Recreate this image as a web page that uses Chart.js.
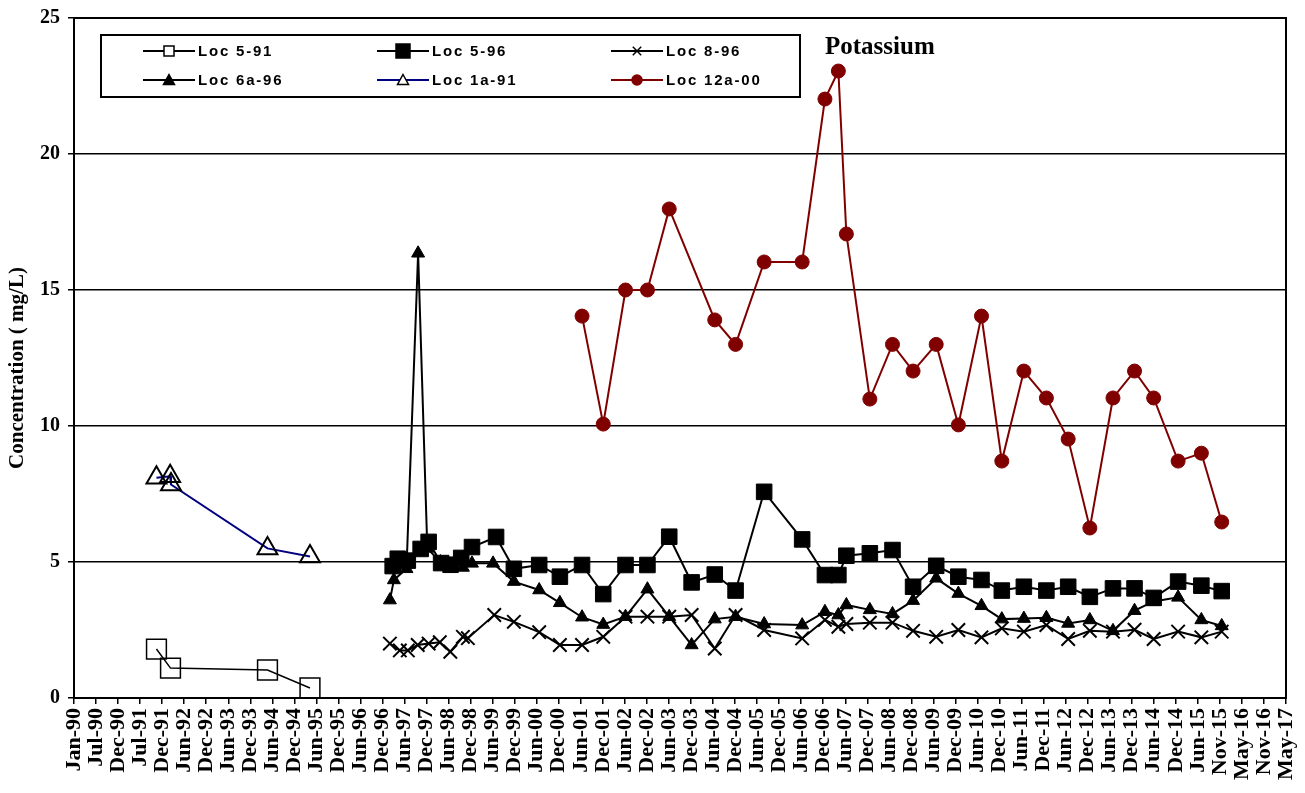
<!DOCTYPE html>
<html>
<head>
<meta charset="utf-8">
<script src="https://cdn.jsdelivr.net/npm/chart.js@4.4.1/dist/chart.umd.min.js"></script>
<style>
html,body{margin:0;padding:0;background:#fff;}
#wrap{width:1305px;height:793px;}
</style>
</head>
<body>
<div id="wrap"><canvas id="c" width="1305" height="793"></canvas></div>
<script>
// ---------- DATA ----------
const xTickLabels = ['Jan-90','Jul-90','Dec-90','Jul-91','Dec-91','Jun-92','Dec-92','Jun-93','Dec-93','Jun-94','Dec-94','Jun-95','Dec-95','Jun-96','Dec-96','Jun-97','Dec-97','Jun-98','Dec-98','Jun-99','Dec-99','Jun-00','Dec-00','Jun-01','Dec-01','Jun-02','Dec-02','Jun-03','Dec-03','Jun-04','Dec-04','Jun-05','Dec-05','Jun-06','Dec-06','Jun-07','Dec-07','Jun-08','Dec-08','Jun-09','Dec-09','Jun-10','Dec-10','Jun-11','Dec-11','Jun-12','Dec-12','Jun-13','Dec-13','Jun-14','Dec-14','Jun-15','Nov-15','May-16','Nov-16','May-17'];
const axisStartDate = '1990-01-01';
const tickStepDays = 182;
const yTicks = [0, 5, 10, 15, 20, 25];

const loc591Dates  = ['1991-11-13','1992-03-08','1994-05-18','1995-05-04'];
const loc591Values = [1.8, 1.1, 1.03, 0.37];

const loc1a91Dates  = ['1991-11-13','1992-03-05','1992-03-12','1994-05-18','1995-05-04'];
const loc1a91Values = [8.1, 8.15, 7.85, 5.5, 5.2];

const loc596Dates = ['1997-03-17','1997-04-28','1997-07-20','1997-11-03','1998-01-08','1998-04-21','1998-07-08','1998-10-04','1999-01-01','1999-07-19','1999-12-13',
  '2000-07-09','2000-12-27','2001-06-28','2001-12-20','2002-06-22','2002-12-20','2003-06-18','2003-12-20','2004-06-28','2004-12-17',
  '2005-08-10','2006-06-20','2006-12-25','2007-04-15','2007-06-20','2007-12-31','2008-07-05','2008-12-22','2009-07-01','2009-12-31',
  '2010-07-10','2010-12-25','2011-06-25','2011-12-28','2012-06-25','2012-12-21','2013-06-30','2013-12-25','2014-06-01','2014-12-20',
  '2015-06-30','2015-12-15'];
const loc596Values = [4.85,5.12,5.05,5.48,5.74,4.96,4.9,5.15,5.55,5.92,4.75,
  4.89,4.46,4.89,3.82,4.89,4.89,5.93,4.25,4.54,3.95,
  7.58,5.83,4.52,4.52,5.23,5.32,5.44,4.09,4.86,4.46,
  4.34,3.95,4.09,3.95,4.09,3.72,4.03,4.03,3.68,4.28,
  4.13,3.93];

const loc896Dates = ['1997-02-22','1997-05-15','1997-07-20','1997-10-10','1998-01-08','1998-04-10','1998-07-06','1998-10-18','1998-11-28','1999-07-04','1999-12-13',
  '2000-07-09','2000-12-27','2001-06-28','2001-12-20','2002-06-22','2002-12-20','2003-06-18','2003-12-20','2004-06-28','2004-12-17',
  '2005-08-10','2006-06-20','2006-12-25','2007-04-15','2007-06-20','2007-12-31','2008-07-05','2008-12-22','2009-07-01','2009-12-31',
  '2010-07-10','2010-12-25','2011-06-25','2011-12-28','2012-06-25','2012-12-21','2013-06-30','2013-12-25','2014-06-01','2014-12-20',
  '2015-06-30','2015-12-15'];
const loc896Values = [2.0,1.75,1.75,1.95,2.0,2.05,1.7,2.25,2.2,3.05,2.8,
  2.42,1.95,1.95,2.25,2.99,2.99,2.99,3.05,1.82,3.05,
  2.5,2.19,2.87,2.62,2.72,2.77,2.77,2.47,2.25,2.5,
  2.23,2.56,2.44,2.68,2.17,2.47,2.44,2.51,2.17,2.44,
  2.23,2.44];

const loc6a96Dates = ['1997-02-22','1997-03-27','1997-07-09','1997-10-13','1997-12-28','1998-04-15','1998-07-06','1998-10-18','1999-01-01','1999-06-24','1999-12-13',
  '2000-07-09','2000-12-27','2001-06-28','2001-12-20','2002-06-22','2002-12-20','2003-06-18','2003-12-20','2004-06-28','2004-12-17',
  '2005-08-10','2006-06-20','2006-12-25','2007-04-15','2007-06-20','2007-12-31','2008-07-05','2008-12-22','2009-07-01','2009-12-31',
  '2010-07-10','2010-12-25','2011-06-25','2011-12-28','2012-06-25','2012-12-21','2013-06-30','2013-12-25','2014-06-01','2014-12-20',
  '2015-06-30','2015-12-15'];
const loc6a96Values = [3.6,4.34,4.75,16.35,5.5,5.0,4.75,4.8,4.95,4.95,4.28,
  3.97,3.5,2.97,2.7,2.99,4.0,2.99,1.95,2.9,2.99,
  2.72,2.68,3.17,3.05,3.42,3.24,3.09,3.58,4.4,3.84,
  3.39,2.9,2.92,2.95,2.74,2.87,2.47,3.21,3.55,3.7,
  2.87,2.65];

const loc12a00Dates = ['2001-06-28','2001-12-20','2002-06-22','2002-12-20','2003-06-18','2004-06-28','2004-12-17',
  '2005-08-10','2006-06-20','2006-12-25','2007-04-15','2007-06-20','2007-12-31','2008-07-05','2008-12-22','2009-07-01','2009-12-31',
  '2010-07-10','2010-12-25','2011-06-25','2011-12-28','2012-06-25','2012-12-21','2013-06-30','2013-12-25','2014-06-01','2014-12-20',
  '2015-06-30','2015-12-15'];
const loc12a00Values = [14.04,10.07,15.0,15.0,17.98,13.9,13.0,
  16.03,16.03,22.02,23.05,17.06,10.99,13.0,12.02,13.0,10.04,
  14.04,8.71,12.02,11.03,9.52,6.25,11.03,12.02,11.03,8.71,
  9.0,6.47];

const seriesNames = ['Loc 5-91','Loc 5-96','Loc 8-96','Loc 6a-96','Loc 1a-91','Loc 12a-00'];

// ---------- BUILD ----------
const DAY = 86400000;
const t0 = Date.parse(axisStartDate);
const toDays = d => (Date.parse(d) - t0) / DAY;
const pts = (dates, vals) => dates.map((d, i) => ({x: toDays(d), y: vals[i]}));
const xMax = tickStepDays * (xTickLabels.length - 1);

const serif = "'Liberation Serif','Times New Roman',serif";
const sans = "'Liberation Sans',Arial,sans-serif";

const styles = [
  {line:'#000', lw:1.5, ps:'rect', r:14, fill:'rgba(0,0,0,0)', pb:'#000', pbw:1.5, lr:5, lfill:'#fff'},
  {line:'#000', lw:2, ps:'rect', r:11, fill:'#000', pb:'#000', pbw:1, lr:7, lfill:'#000'},
  {line:'#000', lw:2, ps:'crossRot', r:9.5, fill:'#000', pb:'#000', pbw:2, lr:6, lfill:'#000'},
  {line:'#000', lw:2, ps:'triangle', r:7.5, fill:'#000', pb:'#000', pbw:1, lr:5.5, lfill:'#000'},
  {line:'#000080', lw:2, ps:'triangle', r:11.5, fill:'rgba(0,0,0,0)', pb:'#000', pbw:2, lr:5.5, lfill:'#fff'},
  {line:'#800000', lw:2, ps:'circle', r:7, fill:'#800000', pb:'#800000', pbw:1, lr:5, lfill:'#800000'}
];
const seriesData = [
  pts(loc591Dates, loc591Values),
  pts(loc596Dates, loc596Values),
  pts(loc896Dates, loc896Values),
  pts(loc6a96Dates, loc6a96Values),
  pts(loc1a91Dates, loc1a91Values),
  pts(loc12a00Dates, loc12a00Values)
];

const datasets = seriesNames.map((name, i) => ({
  label: name,
  data: seriesData[i],
  borderColor: styles[i].line,
  borderWidth: styles[i].lw,
  pointStyle: styles[i].ps,
  pointRadius: styles[i].r,
  pointBackgroundColor: styles[i].fill,
  pointBorderColor: styles[i].pb,
  pointBorderWidth: styles[i].pbw,
  tension: 0,
  fill: false,
  order: seriesNames.length - i
}));

function marker(ctx, st, x, y) {
  const r = st.lr;
  ctx.save();
  ctx.fillStyle = st.lfill;
  ctx.strokeStyle = st.pb;
  ctx.lineWidth = 1.5;
  ctx.beginPath();
  if (st.ps === 'rect') {
    ctx.rect(x - r, y - r, 2 * r, 2 * r);
    ctx.fill(); ctx.stroke();
  } else if (st.ps === 'triangle') {
    ctx.moveTo(x, y - r); ctx.lineTo(x + r, y + r * 0.8); ctx.lineTo(x - r, y + r * 0.8); ctx.closePath();
    ctx.fill(); ctx.stroke();
  } else if (st.ps === 'circle') {
    ctx.arc(x, y, r, 0, Math.PI * 2); ctx.fill(); ctx.stroke();
  } else if (st.ps === 'crossRot') {
    ctx.moveTo(x - r * 0.7, y - r * 0.7); ctx.lineTo(x + r * 0.7, y + r * 0.7);
    ctx.moveTo(x + r * 0.7, y - r * 0.7); ctx.lineTo(x - r * 0.7, y + r * 0.7);
    ctx.stroke();
  }
  ctx.restore();
}

const overlay = {
  id: 'overlay',
  afterDraw(chart) {
    const ctx = chart.ctx, a = chart.chartArea;
    ctx.save();
    // plot frame
    ctx.strokeStyle = '#000'; ctx.lineWidth = 2;
    ctx.strokeRect(a.left, a.top, a.right - a.left, a.bottom - a.top);
    // y title
    ctx.save();
    ctx.translate(18, 368);
    ctx.rotate(-Math.PI / 2);
    ctx.fillStyle = '#000';
    ctx.font = 'bold 21px ' + serif;
    ctx.textAlign = 'center'; ctx.textBaseline = 'middle';
    ctx.fillText('Concentration ( mg/L)', 0, 0);
    ctx.restore();
    // title
    ctx.fillStyle = '#000';
    ctx.font = 'bold 25px ' + serif;
    ctx.textAlign = 'left'; ctx.textBaseline = 'middle';
    ctx.fillText('Potassium', 825, 48);
    // legend
    ctx.fillStyle = '#fff';
    ctx.fillRect(101, 35, 699, 62);
    ctx.strokeStyle = '#000'; ctx.lineWidth = 2;
    ctx.strokeRect(101, 35, 699, 62);
    const colX = [143, 377, 611];
    const rowY = [51, 80];
    ctx.font = 'bold 15px ' + sans;
    try { ctx.letterSpacing = '1.8px'; } catch (e) {}
    seriesNames.forEach((name, i) => {
      const cx = colX[i % 3], cy = rowY[Math.floor(i / 3)];
      const st = styles[i];
      ctx.strokeStyle = st.line; ctx.lineWidth = 2;
      ctx.beginPath(); ctx.moveTo(cx, cy); ctx.lineTo(cx + 52, cy); ctx.stroke();
      marker(ctx, st, cx + 26, cy);
      ctx.fillStyle = '#000';
      ctx.textAlign = 'left'; ctx.textBaseline = 'middle';
      ctx.fillText(name, cx + 55, cy + 1);
    });
    ctx.restore();
  }
};

new Chart(document.getElementById('c'), {
  type: 'line',
  data: { datasets },
  options: {
    responsive: false,
    devicePixelRatio: 1,
    animation: false,
    layout: { padding: { top: 18, right: 19, left: 0, bottom: 0 } },
    plugins: { legend: { display: false }, tooltip: { enabled: false }, title: { display: false } },
    scales: {
      x: {
        type: 'linear',
        min: 0, max: xMax,
        afterBuildTicks: s => { s.ticks = xTickLabels.map((_, i) => ({ value: i * tickStepDays })); },
        afterFit: s => { s.height = 95; s.paddingLeft = 0; s.paddingRight = 0; },
        ticks: {
          autoSkip: false, maxRotation: 90, minRotation: 90, padding: 4,
          color: '#000',
          font: { family: serif, size: 22, weight: 'bold' },
          callback: (v, i) => xTickLabels[i]
        },
        grid: { drawOnChartArea: false, drawTicks: true, tickLength: 6, color: '#000', tickColor: '#000', lineWidth: 1.5 },
        border: { color: '#000', width: 2 }
      },
      y: {
        min: 0, max: 25,
        afterBuildTicks: s => { s.ticks = yTicks.map(v => ({ value: v })); },
        afterFit: s => { s.width = 74; s.paddingTop = 0; s.paddingBottom = 0; },
        ticks: { color: '#000', padding: 8, font: { family: serif, size: 20, weight: 'bold' } },
        grid: { color: '#000', lineWidth: 1.5, tickLength: 6, tickColor: '#000' },
        border: { color: '#000', width: 2 }
      }
    }
  },
  plugins: [overlay]
});
</script>
</body>
</html>
